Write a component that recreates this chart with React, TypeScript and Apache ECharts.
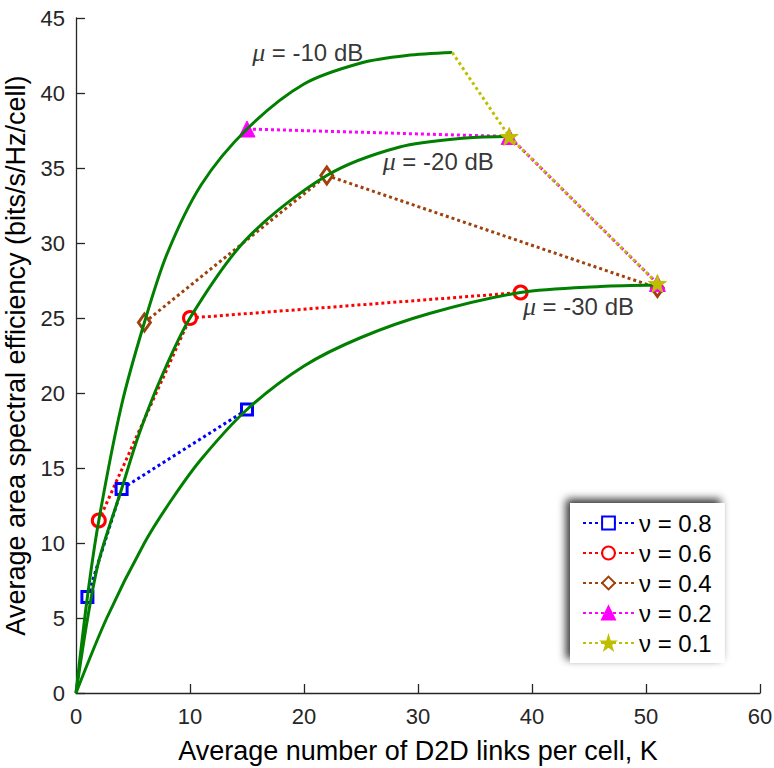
import React, { useEffect, useRef } from "react";
import * as echarts from "echarts";

// Green reference curves
const curveMu10: number[][] = [[0, 0], [1, 6.4], [2, 11.5], [4, 19.2], [6, 24.7], [8, 29.3], [11, 33.9], [15, 37.6], [20, 40.6], [25, 42.0], [29, 42.5], [33, 42.7]];
const curveMu20: number[][] = [[0, 0], [1, 4.9], [2, 8.8], [4, 13.6], [5.5, 17.2], [7.4, 20.9], [10, 25.0], [15, 30.3], [22, 34.5], [28.4, 36.4], [34.2, 37.0], [38, 37.1]];
const curveMu30: number[][] = [[0, 0], [2.7, 5], [6, 10], [8.4, 12.9], [11, 15.6], [15, 18.9], [20, 21.8], [25, 23.7], [31, 25.3], [39, 26.7], [46, 27.1], [51, 27.2]];

// Marker series
const nu08: number[][] = [[1, 6.4], [4, 13.6], [15, 18.9]];
const nu06: number[][] = [[2, 11.5], [10, 25.0], [39, 26.7]];
const nu04: number[][] = [[6, 24.7], [22, 34.5], [51, 27.0]];
const nu02: number[][] = [[15, 37.6], [38, 37.1], [51, 27.3]];
const nu01: number[][] = [[33, 42.7], [38, 37.1], [51, 27.3]];

const legendNames = ["ν = 0.8", "ν = 0.6", "ν = 0.4", "ν = 0.2", "ν = 0.1"];

// Curve labels
const muLabelPos: number[][] = [[15.45, 42.67], [26.9, 35.42], [39.2, 25.75]];
const muLabelText = ["-10 dB", "-20 dB", "-30 dB"];

const xTitle = "Average number of D2D links per cell, K";
const yTitle = "Average area spectral efficiency (bits/s/Hz/cell)";

const FONT = "Arial, 'Liberation Sans', Helvetica, sans-serif";
const AXIS = "#262626";
const GREEN = "#007f00";
const STAR = "path://M50,0 L61,35 L98,35 L68,57 L79,91 L50,70 L21,91 L32,57 L2,35 L39,35 Z";

function markerSeries(name: string, data: any[], color: string, symbol: string, size: any, filled: boolean, z: number) {
  return {
    name,
    type: "line",
    data,
    color,
    z,
    symbol,
    symbolSize: size,
    lineStyle: { color, width: 3, type: [3, 3] },
    itemStyle: filled
      ? { color, borderColor: color, borderWidth: 1 }
      : { color: "#ffffff", borderColor: color, borderWidth: 3 },
    emphasis: { disabled: true },
  };
}

function curveSeries(data: number[][]) {
  return {
    type: "line",
    data,
    smooth: 0.3,
    symbol: "none",
    z: 3,
    lineStyle: { color: GREEN, width: 3 },
    silent: true,
    emphasis: { disabled: true },
  };
}

export default function App() {
  const ref = useRef<HTMLDivElement>(null);
  useEffect(() => {
    if (!ref.current) return;
    const chart = echarts.init(ref.current, undefined, { renderer: "svg" });
    chart.setOption({
      animation: false,
      backgroundColor: "#ffffff",
      grid: { left: 76, right: 14, top: 18, bottom: 75, containLabel: false, outerBoundsMode: "none" },
      xAxis: {
        type: "value",
        min: 0,
        max: 60,
        interval: 10,
        name: xTitle,
        nameLocation: "middle",
        nameGap: 44,
        nameTextStyle: { fontSize: 27, color: "#000", fontFamily: FONT },
        axisLine: { show: true, lineStyle: { color: AXIS, width: 1.3 } },
        axisTick: { show: true, inside: true, length: 9, lineStyle: { color: AXIS, width: 1.3 } },
        axisLabel: { fontSize: 22, color: AXIS, fontFamily: FONT, margin: 12 },
        splitLine: { show: false },
      },
      yAxis: {
        type: "value",
        min: 0,
        max: 45,
        interval: 5,
        name: yTitle,
        nameLocation: "middle",
        nameGap: 47,
        nameTextStyle: { fontSize: 27, color: "#000", fontFamily: FONT },
        axisLine: { show: true, lineStyle: { color: AXIS, width: 1.3 } },
        axisTick: { show: true, inside: true, length: 9, lineStyle: { color: AXIS, width: 1.3 } },
        axisLabel: { fontSize: 22, color: AXIS, fontFamily: FONT, margin: 11 },
        splitLine: { show: false },
      },
      legend: {
        data: legendNames,
        orient: "vertical",
        left: 570,
        top: 503,
        padding: [8, 13, 8, 12],
        itemGap: 6,
        itemWidth: 51,
        itemHeight: 16,
        backgroundColor: "#ffffff",
        borderColor: "#ffffff",
        borderWidth: 0,
        shadowBlur: 8,
        shadowColor: "rgba(0,0,0,0.8)",
        shadowOffsetX: -4,
        shadowOffsetY: -4,
        textStyle: { fontSize: 24, color: "#000", fontFamily: FONT },
        selectedMode: false,
      },
      series: [
        markerSeries(legendNames[0], nu08, "#0000ff", "rect", 11, false, 2),
        markerSeries(legendNames[1], nu06, "#ff0000", "circle", 13, false, 2),
        markerSeries(legendNames[2], nu04, "#a0400a", "diamond", [12, 17], false, 2),
        markerSeries(legendNames[3], nu02, "#ff00ff", "triangle", 16, true, 2),
        curveSeries(curveMu10),
        curveSeries(curveMu20),
        curveSeries(curveMu30),
        markerSeries(
          legendNames[4],
          nu01.map((p, i) => (i === 0 ? { value: p, symbol: "none" } : { value: p })),
          "#bfbf00",
          STAR,
          18,
          true,
          4
        ),
        {
          type: "scatter",
          data: muLabelPos,
          symbolSize: 0,
          silent: true,
          z: 5,
          label: {
            show: true,
            position: "right",
            distance: 0,
            fontSize: 24,
            color: "#000",
            fontFamily: FONT,
            formatter: (p: any) => `{mu|μ} = ${muLabelText[p.dataIndex]}`,
            rich: {
              mu: { fontStyle: "italic", fontFamily: "'Liberation Serif', 'DejaVu Serif', serif", fontSize: 26, color: "#000" },
            },
          },
          emphasis: { disabled: true },
        },
      ],
    });
    return () => chart.dispose();
  }, []);
  return (
    <div
      ref={ref}
      style={{ position: "fixed", left: 0, top: 0, width: 774, height: 768, background: "#fff" }}
    />
  );
}
